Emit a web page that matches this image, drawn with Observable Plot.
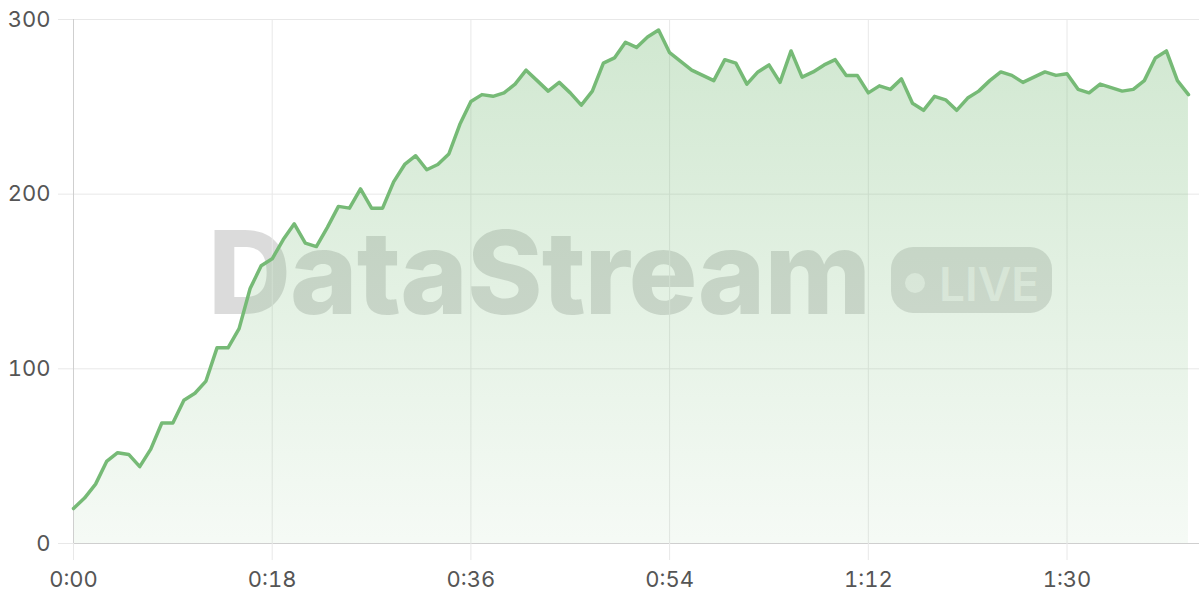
<!DOCTYPE html>
<html>
<head>
<meta charset="utf-8">
<script src="https://cdn.jsdelivr.net/npm/d3@7"></script>
<script src="https://cdn.jsdelivr.net/npm/@observablehq/plot@0.6"></script>
<style>
  html, body { margin: 0; padding: 0; background: #fff; }
  #wrap { position: relative; width: 1200px; height: 600px; overflow: hidden; }
  #wm, #chart { position: absolute; left: 0; top: 0; }
</style>
</head>
<body>
<div id="wrap">
  <svg id="wm" width="1200" height="600" xmlns="http://www.w3.org/2000/svg">
    <text id="wmText" x="208" y="314" font-family="Inter, 'Open Sans', sans-serif" font-weight="800" font-size="115" fill="rgba(0,0,0,0.14)">DataStream</text>
    <rect x="891" y="247" width="161" height="66" rx="22" ry="22" fill="rgba(0,0,0,0.13)"></rect>
    <circle cx="915" cy="283" r="10" fill="rgba(255,255,255,0.6)"></circle>
    <text id="wmLive" x="939" y="301" font-family="Inter, 'Open Sans', sans-serif" font-weight="600" font-size="46" fill="rgba(255,255,255,0.6)">LIVE</text>
  </svg>
  <div id="chart"></div>
</div>
<script>
// Values sampled once per second, starting at 0:00
const values = [
  20, 26, 34, 47, 52, 51, 44, 54, 69, 69,
  82, 86, 93, 112, 112, 123, 146, 159, 163, 174,
  183, 172, 170, 181, 193, 192, 203, 192, 192, 207,
  217, 222, 214, 217, 223, 240, 253, 257, 256, 258,
  263, 271, 265, 259, 264, 258, 251, 259, 275, 278,
  287, 284, 290, 294, 281, 276, 271, 268, 265, 277,
  275, 263, 270, 274, 264, 282, 267, 270, 274, 277,
  268, 268, 258, 262, 260, 266, 252, 248, 256, 254,
  248, 255, 259, 265, 270, 268, 264, 267, 270, 268,
  269, 260, 258, 263, 261, 259, 260, 265, 278, 282,
  265, 257
];
const xTicks = [0, 18, 36, 54, 72, 90];
const yTicks = [0, 100, 200, 300];
const xDomain = [0, 102];
const yDomain = [0, 300];

const data = values.map((v, i) => ({t: i, v}));
const fmt = s => `${Math.floor(s / 60)}:${String(s % 60).padStart(2, "0")}`;

const lineColor = "#76ba76";
const gridColor = "#e8e8e8";
const axisColor = "#cfcfcf";
const textColor = "#555";

// fit the watermark word to its width with letter-spacing (keeps glyph shapes)
function fitSpacing(id, target) {
  const el = document.getElementById(id);
  const n = el.textContent.length;
  const w = el.getComputedTextLength();
  el.setAttribute("letter-spacing", ((target - w) / n).toFixed(2));
}
fitSpacing("wmText", 662);

const chart = Plot.plot({
  width: 1200,
  height: 600,
  marginLeft: 73,
  marginRight: 1,
  marginTop: 19,
  marginBottom: 57,
  style: {background: "transparent", fontFamily: "Inter, 'Open Sans', sans-serif", fontSize: "22px", color: textColor},
  x: {domain: xDomain, label: null},
  y: {domain: yDomain, label: null},
  marks: [
    Plot.gridX(xTicks, {stroke: gridColor, strokeOpacity: 1}),
    Plot.gridY(yTicks, {stroke: gridColor, strokeOpacity: 1}),
    Plot.areaY(data, {x: "t", y: "v", fill: "url(#areaGrad)"}),
    Plot.ruleX([0], {stroke: axisColor}),
    Plot.ruleY([0], {stroke: axisColor}),
    Plot.lineY(data, {x: "t", y: "v", stroke: lineColor, strokeWidth: 3.5, strokeLinejoin: "round", strokeLinecap: "round"}),
    Plot.axisX(xTicks, {tickSize: 17, tickPadding: 11, stroke: gridColor, fill: textColor, fontSize: 22, tickFormat: fmt, label: null}),
    Plot.axisY(yTicks, {tickSize: 15, tickPadding: 8, stroke: gridColor, fill: textColor, fontSize: 22, label: null})
  ]
});

const svg = d3.select(chart.tagName.toLowerCase() === "svg" ? chart : chart.querySelector("svg"));
const defs = svg.insert("defs", ":first-child");
const grad = defs.append("linearGradient").attr("id", "areaGrad").attr("x1", 0).attr("y1", 0).attr("x2", 0).attr("y2", 1);
grad.append("stop").attr("offset", "0%").attr("stop-color", lineColor).attr("stop-opacity", 0.34);
grad.append("stop").attr("offset", "100%").attr("stop-color", lineColor).attr("stop-opacity", 0.07);

document.getElementById("chart").appendChild(chart);
</script>
</body>
</html>
